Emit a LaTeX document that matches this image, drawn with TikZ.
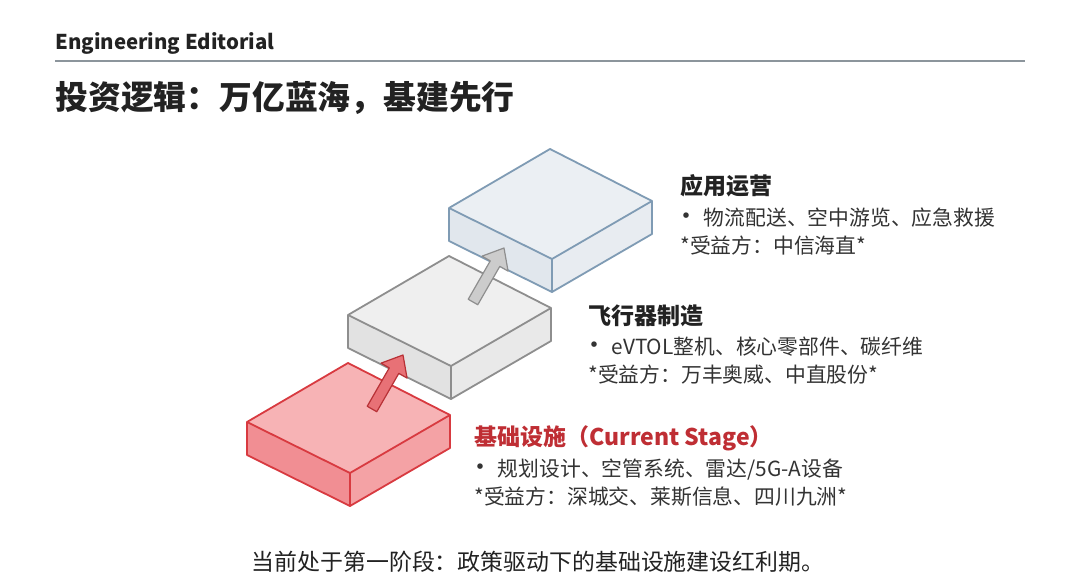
\documentclass[tikz,border=0pt]{standalone}
\usepackage{fontspec}
\setmainfont{Noto Sans CJK SC}
\usepackage{xcolor}
\definecolor{ink}{HTML}{222222}
\definecolor{bodyink}{HTML}{333333}
\definecolor{rulegray}{HTML}{8C959C}
\definecolor{headred}{HTML}{BF2E34}
% infrastructure slab
\definecolor{infraedge}{HTML}{D83A40}
\definecolor{infratop}{HTML}{F7B3B5}
\definecolor{infraleft}{HTML}{F18E93}
\definecolor{infraright}{HTML}{F4A2A5}
% aircraft slab
\definecolor{craftedge}{HTML}{8E8E8E}
\definecolor{crafttop}{HTML}{EFEFEF}
\definecolor{craftleft}{HTML}{E2E2E2}
\definecolor{craftright}{HTML}{E9E9E9}
% operations slab
\definecolor{opsedge}{HTML}{7F9BB4}
\definecolor{opstop}{HTML}{EBEFF3}
\definecolor{opsleft}{HTML}{E1E7ED}
\definecolor{opsright}{HTML}{E8ECF1}
\usetikzlibrary{calc, positioning}

% one slab: #1 name, #2/#3 left vertex, #4 colour prefix
\newcommand{\slab}[4]{%
  \coordinate (#1-l) at (#2,#3);
  \coordinate (#1-b) at ($(#1-l)+(101,-59)$);
  \coordinate (#1-r) at ($(#1-l)+(203,-7)$);
  \coordinate (#1-f) at ($(#1-l)+(103,51)$);
  \coordinate (#1-base) at ($(#1-l)+(125,-13)$);
  \coordinate (#1-face) at ($(#1-l)+(55,40)$);
  \fill[#4top] (#1-l) -- (#1-b) -- (#1-r) -- (#1-f) -- cycle;
  \fill[#4left] (#1-l) -- (#1-f) -- ++(0,33) -- ($(#1-l)+(0,33)$) -- cycle;
  \fill[#4right] (#1-f) -- (#1-r) -- ++(0,33) -- ($(#1-f)+(0,33)$) -- cycle;
  \draw[slabline, draw=#4edge] (#1-l) -- (#1-b) -- (#1-r) -- ++(0,33)
    -- ($(#1-f)+(0,33)$) -- ($(#1-l)+(0,33)$) -- cycle;
  \draw[slabline, draw=#4edge] (#1-l) -- (#1-f) -- (#1-r);
  \draw[slabline, draw=#4edge] (#1-f) -- ++(0,33);
}

% block arrow: #1 style, #2 from, #3 to
\newcommand{\blockarrow}[3]{%
  \filldraw[#1] ($(#2)!2.75pt!90:(#3)$)
    -- ($(#3)!9pt!(#2)!2.75pt!-90:(#2)$)
    -- ($(#3)!9pt!(#2)!7.5pt!-90:(#2)$)
    -- (#3)
    -- ($(#3)!9pt!(#2)!7.5pt!90:(#2)$)
    -- ($(#3)!9pt!(#2)!2.75pt!90:(#2)$)
    -- ($(#2)!2.75pt!-90:(#3)$) -- cycle;
}
\newcommand{\itembullet}{\hspace{-0.32em}{\fontsize{13}{13}\selectfont•}\hspace{0.2em}}

\begin{document}
\begin{tikzpicture}[
  x=0.5pt, y=-0.5pt,
  slabline/.style={line width=0.9pt, line join=round},
  uparrow/.style={line width=0.6pt, line join=round},
  kicker/.style={font=\fontsize{10.2}{13}\selectfont\bfseries, text=ink, anchor=west, inner sep=0pt},
  headline/.style={font=\fontsize{16.4}{19}\selectfont\bfseries, text=ink, anchor=west, inner sep=0pt},
  stage/.style={font=\fontsize{11.5}{14}\selectfont\bfseries, text=ink, anchor=west, inner sep=0pt},
  body/.style={font=\fontsize{10.4}{13}\selectfont, text=bodyink, anchor=west, inner sep=0pt},
  caption/.style={font=\fontsize{11.45}{14}\selectfont, text=ink, inner sep=0pt},
]
\useasboundingbox (0,0) rectangle (1080,582);
\fill[white] (0,0) rectangle (1080,582);

% Header
\node[kicker] (kicker) at (55,43) {Engineering Editorial};
\coordinate (rule-l) at (55,61);
\coordinate (rule-r) at (1025,61);
\draw[rulegray, line width=0.8pt] (rule-l) -- (rule-r);
\node[headline] (title) at (55,98) {投资逻辑：万亿蓝海，基建先行};

% Slabs, back to front
\slab{ops}{449}{208}{ops}
\slab{craft}{348}{315}{craft}
\slab{infra}{247}{422}{infra}

% Arrows between stages
\blockarrow{uparrow, fill=infraleft!65!infraedge, draw=infraedge!85!black}{infra-base}{craft-face}
\blockarrow{uparrow, fill=craftedge!45!white, draw=craftedge}{craft-base}{ops-face}

% Stage texts
\node[stage] (ops-title) at (680,186) {应用运营};
\node[body] (ops-items) at (680,218) {\itembullet 物流配送、空中游览、应急救援};
\node[body] (ops-gain) at (680,246) {*受益方：中信海直*};

\node[stage] (craft-title) at (588,316) {飞行器制造};
\node[body] (craft-items) at (588,347) {\itembullet eVTOL整机、核心零部件、碳纤维};
\node[body] (craft-gain) at (588,375) {*受益方：万丰奥威、中直股份*};

\node[stage, text=headred] (infra-title) at (474,438) {基础设施（Current Stage）};
\node[body] (infra-items) at (474,470) {\itembullet 规划设计、空管系统、雷达/5G-A设备};
\node[body] (infra-gain) at (474,497) {*受益方：深城交、莱斯信息、四川九洲*};

% Footer
\node[caption] (footer) at (538,562) {当前处于第一阶段：政策驱动下的基础设施建设红利期。};

\end{tikzpicture}
\end{document}
